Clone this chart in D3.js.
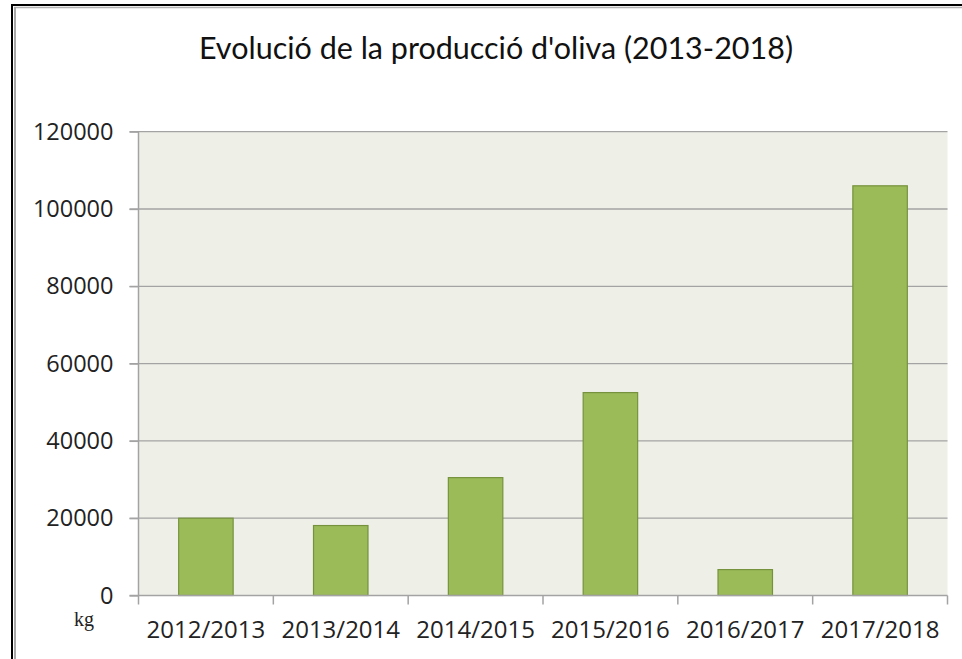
<!DOCTYPE html>
<html>
<head>
<meta charset="utf-8">
<script src="https://cdn.jsdelivr.net/npm/d3@7"></script>
<style>
  body { margin: 0; background: #fff; }
  svg { display: block; }
</style>
</head>
<body>
<svg id="chart" width="962" height="659"></svg>
<script>
const categories = ["2012/2013", "2013/2014", "2014/2015", "2015/2016", "2016/2017", "2017/2018"];
const production = [20000, 18100, 30500, 52500, 6700, 106000];
const yTicks = [0, 20000, 40000, 60000, 80000, 100000, 120000];
const chartTitle = "Evolució de la producció d'oliva (2013-2018)";
const unitLabel = "kg";

const svg = d3.select("#chart");

// frame lines of the embedded chart
svg.append("line").attr("x1", 11).attr("x2", 962).attr("y1", 5).attr("y2", 5)
    .attr("stroke", "#000").attr("stroke-width", 2);
svg.append("line").attr("x1", 12).attr("x2", 12).attr("y1", 4).attr("y2", 659)
    .attr("stroke", "#000").attr("stroke-width", 2);
svg.append("line").attr("x1", 14).attr("x2", 962).attr("y1", 7.5).attr("y2", 7.5)
    .attr("stroke", "#b4b4b4").attr("stroke-width", 1.5);
svg.append("line").attr("x1", 15).attr("x2", 15).attr("y1", 7).attr("y2", 659)
    .attr("stroke", "#a8a8a8").attr("stroke-width", 2);

const plot = { left: 138.5, right: 947.5, top: 131.7, bottom: 595.5 };

const x = d3.scaleBand()
    .domain(categories)
    .range([plot.left, plot.right])
    .padding(0);

const y = d3.scaleLinear()
    .domain([0, 120000])
    .range([plot.bottom, plot.top]);

// plot background
svg.append("rect")
    .attr("x", plot.left)
    .attr("y", plot.top)
    .attr("width", plot.right - plot.left)
    .attr("height", plot.bottom - plot.top)
    .attr("fill", "#eef0e7");

// gridlines
svg.append("g")
    .selectAll("line")
    .data(yTicks.filter(d => d > 0))
    .join("line")
    .attr("x1", plot.left - 9)
    .attr("x2", plot.right)
    .attr("y1", d => y(d))
    .attr("y2", d => y(d))
    .attr("stroke", "#a3a3a3")
    .attr("stroke-width", 1.3);

// bars
const bw = x.bandwidth();
svg.append("g")
    .selectAll("rect")
    .data(production)
    .join("rect")
    .attr("x", (d, i) => x(categories[i]) + bw * 0.298)
    .attr("y", d => y(d))
    .attr("width", bw * 0.404)
    .attr("height", d => y(0) - y(d))
    .attr("fill", "#9bbb59")
    .attr("stroke", "#76923c")
    .attr("stroke-width", 1.2);

// y axis
const yAxis = svg.append("g")
    .attr("transform", `translate(${plot.left},0)`)
    .call(d3.axisLeft(y).tickValues(yTicks).tickSize(9).tickPadding(16).tickFormat(d3.format("d")));
yAxis.select(".domain").remove();
yAxis.selectAll(".tick line").attr("stroke", "#a3a3a3").attr("stroke-width", 1.3);
yAxis.selectAll(".tick text")
    .attr("font-family", "'Open Sans', sans-serif")
    .attr("font-size", 23.5)
    .attr("fill", "#222");
svg.append("line")
    .attr("x1", plot.left).attr("x2", plot.left)
    .attr("y1", plot.top).attr("y2", plot.bottom)
    .attr("stroke", "#a3a3a3").attr("stroke-width", 1.5);

// x axis
svg.append("line")
    .attr("x1", plot.left - 9).attr("x2", plot.right)
    .attr("y1", plot.bottom).attr("y2", plot.bottom)
    .attr("stroke", "#a3a3a3").attr("stroke-width", 1.5);
const boundaries = categories.map(c => x(c)).concat([x.range()[1]]);
svg.append("g")
    .selectAll("line")
    .data(boundaries)
    .join("line")
    .attr("x1", d => d).attr("x2", d => d)
    .attr("y1", plot.bottom).attr("y2", plot.bottom + 9)
    .attr("stroke", "#a3a3a3").attr("stroke-width", 1.5);
svg.append("g")
    .selectAll("text")
    .data(categories)
    .join("text")
    .attr("x", d => x(d) + bw / 2)
    .attr("y", 638)
    .attr("text-anchor", "middle")
    .attr("font-family", "'Open Sans', sans-serif")
    .attr("font-size", 24)
    .attr("fill", "#222")
    .text(d => d);

// unit label
svg.append("text")
    .attr("x", 74)
    .attr("y", 626)
    .attr("font-family", "'Liberation Serif', serif")
    .attr("font-size", 20)
    .attr("fill", "#222")
    .text(unitLabel);

// title
svg.append("text")
    .attr("x", 496)
    .attr("y", 59)
    .attr("text-anchor", "middle")
    .attr("font-family", "Lato, sans-serif")
    .attr("font-size", 30.5)
    .attr("fill", "#111")
    .text(chartTitle);
</script>
</body>
</html>
